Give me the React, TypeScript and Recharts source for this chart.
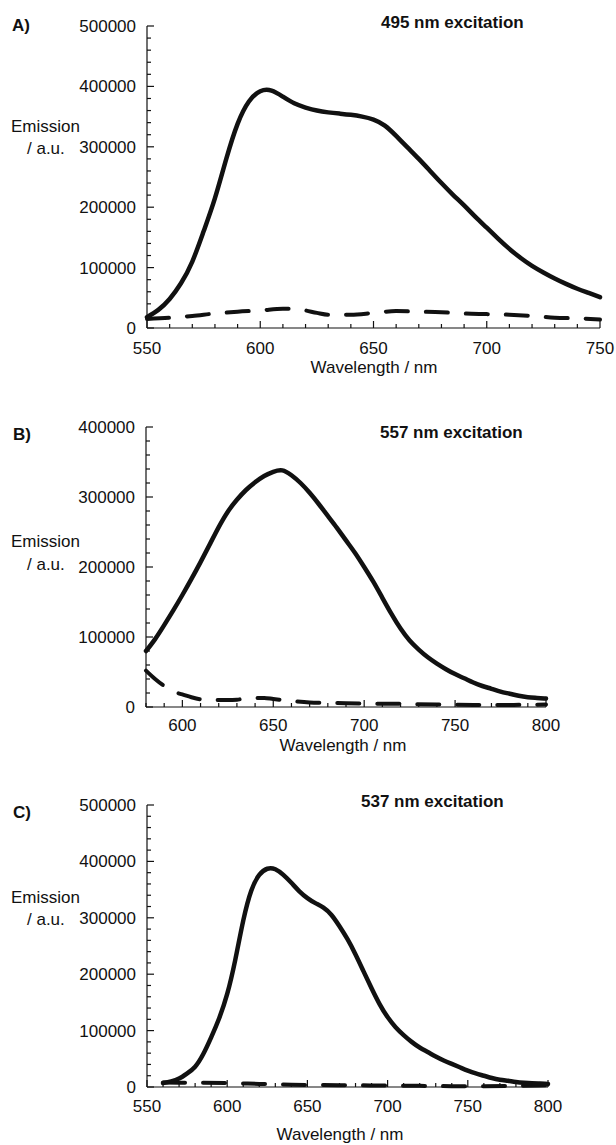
import React from 'react';
import { LineChart, Line, XAxis, YAxis } from 'recharts';

const FONT = '"Liberation Sans", Arial, Helvetica, sans-serif';
const INK = '#111';

// A) 495 nm excitation
const aSolidNm = [550, 555, 560, 565, 570, 575, 580, 585, 590, 595, 600, 605, 610, 615, 620, 625, 630, 635, 640, 645, 650, 655, 660, 665, 670, 675, 680, 685, 690, 695, 700, 705, 710, 715, 720, 725, 730, 735, 740, 745, 750];
const aSolidEm = [18000, 30000, 48000, 74000, 110000, 160000, 215000, 280000, 338000, 375000, 392000, 393000, 383000, 372000, 365000, 360000, 357000, 355000, 353000, 350000, 345000, 335000, 318000, 299000, 280000, 260000, 240000, 221000, 203000, 184000, 166000, 148000, 131000, 116000, 103000, 92000, 82000, 73000, 65000, 58000, 51000];
const aDashNm = [550, 560, 570, 580, 590, 600, 610, 615, 620, 625, 630, 640, 650, 660, 670, 680, 690, 700, 710, 720, 730, 740, 750];
const aDashEm = [15000, 17000, 20000, 24000, 27000, 29000, 32000, 32000, 29000, 25000, 22000, 22000, 25000, 28000, 27000, 26000, 24000, 23000, 22000, 20000, 17000, 16000, 14000];

// B) 557 nm excitation
const bSolidNm = [580, 585, 590, 595, 600, 605, 610, 615, 620, 625, 630, 635, 640, 645, 650, 655, 660, 665, 670, 675, 680, 685, 690, 695, 700, 705, 710, 715, 720, 725, 730, 735, 740, 745, 750, 755, 760, 765, 770, 775, 780, 785, 790, 795, 800];
const bSolidEm = [80000, 97000, 117000, 138000, 160000, 183000, 207000, 232000, 257000, 279000, 296000, 310000, 321000, 330000, 336000, 338000, 331000, 320000, 306000, 290000, 273000, 256000, 238000, 220000, 200000, 179000, 156000, 133000, 112000, 95000, 82000, 71000, 62000, 54000, 47000, 41000, 35000, 30000, 26000, 22000, 19000, 16000, 14000, 13000, 12000];
const bDashNm = [580, 585, 590, 595, 600, 605, 610, 615, 620, 625, 630, 635, 640, 645, 650, 660, 670, 680, 690, 700, 720, 740, 760, 780, 800];
const bDashEm = [52000, 40000, 30000, 22000, 18000, 14000, 11000, 10000, 10000, 10000, 10500, 12000, 13000, 13000, 11500, 8500, 6500, 6000, 5500, 5000, 4500, 3500, 3000, 3000, 3500];

// C) 537 nm excitation
const cSolidNm = [560, 565, 570, 575, 580, 585, 590, 595, 600, 605, 610, 615, 620, 625, 630, 635, 640, 645, 650, 655, 660, 665, 670, 675, 680, 685, 690, 695, 700, 705, 710, 715, 720, 725, 730, 735, 740, 745, 750, 755, 760, 765, 770, 775, 780, 785, 790, 795, 800];
const cSolidEm = [7000, 10000, 15000, 24000, 36000, 58000, 88000, 122000, 165000, 225000, 295000, 348000, 376000, 387000, 386000, 376000, 362000, 347000, 335000, 326000, 318000, 305000, 285000, 262000, 235000, 205000, 175000, 147000, 124000, 106000, 92000, 80000, 70000, 62000, 54000, 47000, 41000, 35000, 29000, 24000, 20000, 16000, 13000, 11000, 9000, 7500, 6500, 6000, 5500];
const cDashNm = [560, 580, 600, 620, 640, 660, 680, 700, 720, 740, 760, 780, 800];
const cDashEm = [8000, 7500, 7000, 5500, 4000, 3500, 3000, 2500, 2000, 1500, 1500, 2000, 3000];

const aXTicks = [550, 600, 650, 700, 750];
const bXTicks = [600, 650, 700, 750, 800];
const cXTicks = [550, 600, 650, 700, 750, 800];
const aYTicks = [0, 100000, 200000, 300000, 400000, 500000];
const bYTicks = [0, 100000, 200000, 300000, 400000];
const cYTicks = [0, 100000, 200000, 300000, 400000, 500000];

const zip = (xs: number[], ys: number[]) => xs.map((x, i) => ({ x, y: ys[i] }));

// fill in minor ticks between the labelled ones
const withMinor = (from: number, to: number, step: number) => {
  const out: number[] = [];
  for (let v = from; v <= to + 1e-9; v += step) out.push(Math.round(v));
  return out;
};

const labelStyle = { fontFamily: FONT, fontSize: 17, fill: INK };

function makeXTick(majors: number[], labelDy: number) {
  return (props: any) => {
    const { x, y, payload } = props;
    const major = majors.includes(payload.value);
    return (
      <g>
        <line x1={x} x2={x} y1={y} y2={y - (major ? 7 : 4)} stroke={INK} strokeWidth={1.2} />
        {major && (
          <text x={x} y={y + labelDy} textAnchor="middle" style={labelStyle}>
            {payload.value}
          </text>
        )}
      </g>
    );
  };
}

function makeYTick(majors: number[]) {
  return (props: any) => {
    const { x, y, payload } = props;
    const major = majors.includes(payload.value);
    return (
      <g>
        <line x1={x} x2={x + (major ? 7 : 4)} y1={y} y2={y} stroke={INK} strokeWidth={1.2} />
        {major && (
          <text x={x - 11} y={y + 6} textAnchor="end" style={labelStyle}>
            {payload.value}
          </text>
        )}
      </g>
    );
  };
}

type PanelProps = {
  top: number;
  height: number;
  marginTop: number;
  marginRight: number;
  yWidth: number;
  xHeight: number;
  xDomain: [number, number];
  yMax: number;
  xMajors: number[];
  yMajors: number[];
  labelDy: number;
  solid: { x: number; y: number }[];
  dashed: { x: number; y: number }[];
};

function Panel(p: PanelProps) {
  return (
    <div style={{ position: 'absolute', left: 0, top: p.top }}>
      <LineChart
        width={616}
        height={p.height}
        margin={{ top: p.marginTop, right: p.marginRight, left: 0, bottom: 0 }}
      >
        <XAxis
          type="number"
          dataKey="x"
          domain={p.xDomain}
          ticks={withMinor(p.xDomain[0], p.xDomain[1], 10)}
          interval={0}
          height={p.xHeight}
          tickSize={0}
          tickMargin={0}
          tickLine={false}
          axisLine={{ stroke: INK, strokeWidth: 1.2 }}
          tick={makeXTick(p.xMajors, p.labelDy)}
        />
        <YAxis
          type="number"
          dataKey="y"
          domain={[0, p.yMax]}
          ticks={withMinor(0, p.yMax, 20000)}
          interval={0}
          width={p.yWidth}
          tickSize={0}
          tickMargin={0}
          tickLine={false}
          axisLine={{ stroke: INK, strokeWidth: 1.2 }}
          tick={makeYTick(p.yMajors)}
        />
        <Line
          data={p.dashed}
          dataKey="y"
          type="monotone"
          stroke={INK}
          strokeWidth={4}
          strokeDasharray="22 18"
          strokeLinecap="round"
          dot={false}
          activeDot={false}
          isAnimationActive={false}
        />
        <Line
          data={p.solid}
          dataKey="y"
          type="natural"
          stroke={INK}
          strokeWidth={4.5}
          strokeLinecap="round"
          strokeLinejoin="round"
          dot={false}
          activeDot={false}
          isAnimationActive={false}
        />
      </LineChart>
    </div>
  );
}

function Txt({ x, y, children, bold, center }: { x: number; y: number; children: React.ReactNode; bold?: boolean; center?: boolean }) {
  return (
    <div
      style={{
        position: 'absolute',
        left: x,
        top: y - 10,
        lineHeight: '20px',
        fontFamily: FONT,
        fontSize: 17,
        fontWeight: bold ? 'bold' : 'normal',
        color: INK,
        whiteSpace: 'nowrap',
        transform: center ? 'translateX(-50%)' : undefined,
      }}
    >
      {children}
    </div>
  );
}

export default function App() {
  return (
    <div style={{ position: 'absolute', left: 0, top: 0, width: 616, height: 1145, background: '#fff' }}>
      <Panel
        top={0}
        height={380}
        marginTop={26}
        marginRight={16}
        yWidth={147}
        xHeight={52}
        xDomain={[550, 750]}
        yMax={500000}
        xMajors={aXTicks}
        yMajors={aYTicks}
        labelDy={26}
        solid={zip(aSolidNm, aSolidEm)}
        dashed={zip(aDashNm, aDashEm)}
      />
      <Panel
        top={380}
        height={380}
        marginTop={47}
        marginRight={70}
        yWidth={146}
        xHeight={53}
        xDomain={[580, 800]}
        yMax={400000}
        xMajors={bXTicks}
        yMajors={bYTicks}
        labelDy={24}
        solid={zip(bSolidNm, bSolidEm)}
        dashed={zip(bDashNm, bDashEm)}
      />
      <Panel
        top={760}
        height={385}
        marginTop={45}
        marginRight={68}
        yWidth={147}
        xHeight={58}
        xDomain={[550, 800]}
        yMax={500000}
        xMajors={cXTicks}
        yMajors={cYTicks}
        labelDy={25}
        solid={zip(cSolidNm, cSolidEm)}
        dashed={zip(cDashNm, cDashEm)}
      />

      <Txt x={12} y={26} bold>A)</Txt>
      <Txt x={381} y={23} bold>495 nm excitation</Txt>
      <Txt x={11} y={127}>Emission</Txt>
      <Txt x={27} y={149}>/ a.u.</Txt>
      <Txt x={374} y={368} center>Wavelength / nm</Txt>

      <Txt x={13} y={435} bold>B)</Txt>
      <Txt x={380} y={433} bold>557 nm excitation</Txt>
      <Txt x={11} y={542}>Emission</Txt>
      <Txt x={27} y={565}>/ a.u.</Txt>
      <Txt x={343} y={746} center>Wavelength / nm</Txt>

      <Txt x={13} y={813} bold>C)</Txt>
      <Txt x={361} y={802} bold>537 nm excitation</Txt>
      <Txt x={11} y={898}>Emission</Txt>
      <Txt x={27} y={920}>/ a.u.</Txt>
      <Txt x={340} y={1135} center>Wavelength / nm</Txt>
    </div>
  );
}
